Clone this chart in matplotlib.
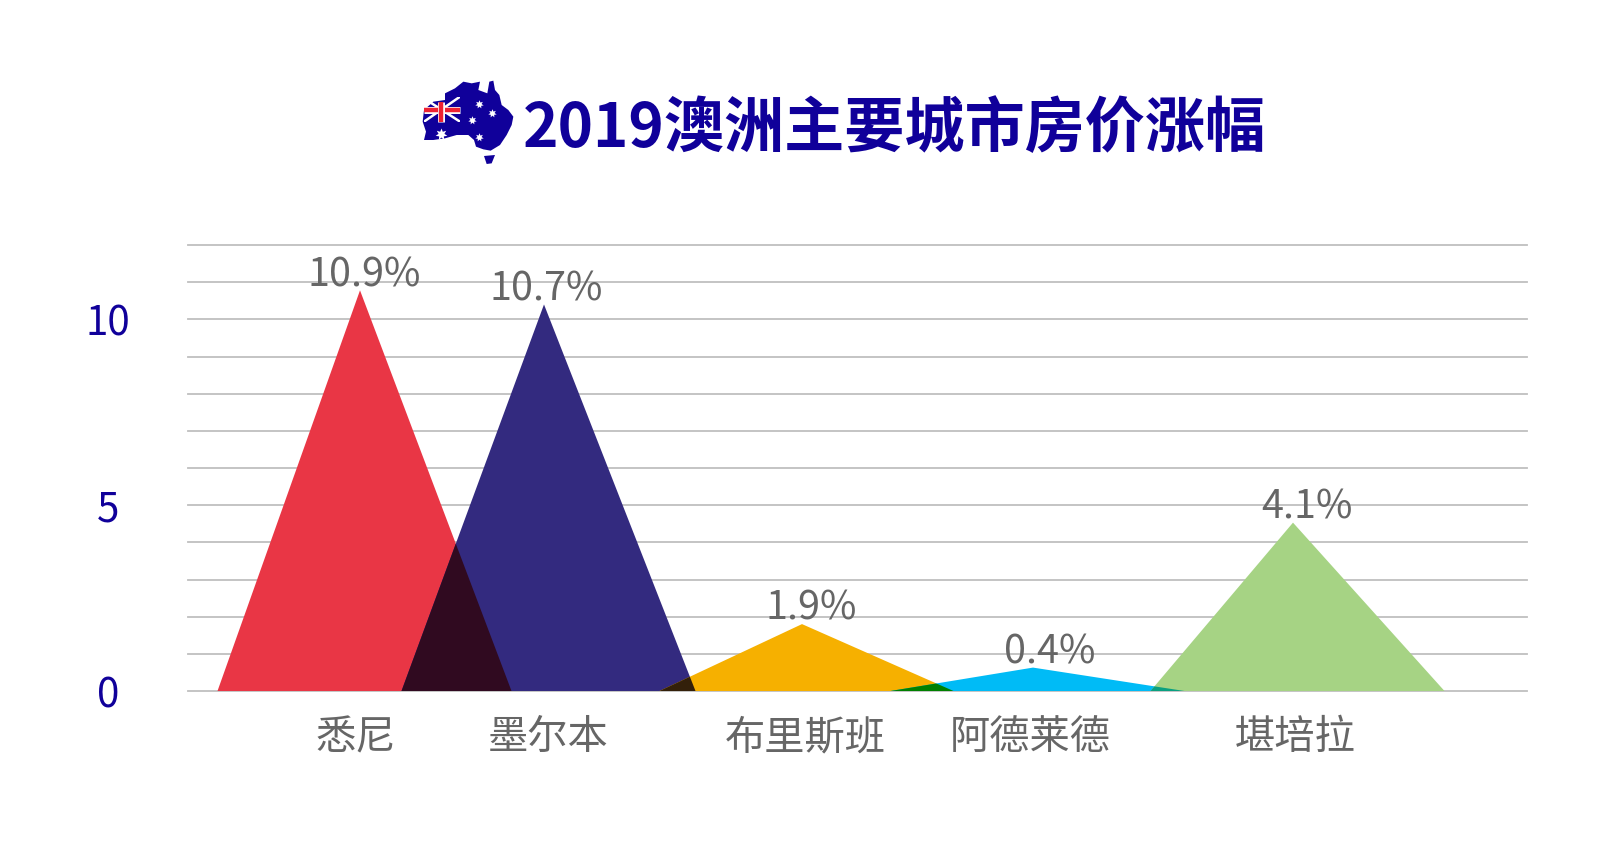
import matplotlib
matplotlib.use("Agg")
import matplotlib.pyplot as plt
from matplotlib.patches import Polygon, Rectangle

plt.rcParams['font.family'] = ['Noto Sans CJK SC', 'DejaVu Sans']

# ---- data ----
cities = ['悉尼', '墨尔本', '布里斯班', '阿德莱德', '堪培拉']
drawn_heights = [10.78, 10.40, 1.80, 0.63, 4.53]
value_labels = ['10.9%', '10.7%', '1.9%', '0.4%', '4.1%']
title_text = '2019澳洲主要城市房价涨幅'

# ---- layout (x axis runs in image pixels) ----
peak_x = [360, 544, 802, 1033, 1293]
label_x = [364, 546, 811, 1050, 1307]
city_label_x = [356, 548, 805, 1030, 1295]
half_base = 147
peak_shift = 4.5
colors = ['#E93645', '#332A7F', '#F6B000', '#00BBF6', '#A6D384']
overlap_colors = ['#300A20', '#33200A', '#008000', '#0AA080']
NAVY = '#10009A'
GRAY = '#666666'
W, H = 1600, 842
L, R, B, T = 187.5, 1526.5, 691, 245

fig = plt.figure(figsize=(W / 100, H / 100), dpi=100, facecolor='white')
ax = fig.add_axes([L / W, 1 - B / H, (R - L) / W, (B - T) / H])
ax.set_xlim(L, R)
ax.set_ylim(0, 12)
for s in ax.spines.values():
    s.set_visible(False)

ax.set_yticks([0, 5, 10])
ax.set_yticks(range(13), minor=True)
ax.set_yticklabels(['0', '5', '10'], fontsize=29, color=NAVY)
ax.tick_params(axis='y', which='both', length=0, pad=57)
for t in ax.get_yticklabels():
    t.set_ha('center')
ax.grid(axis='y', which='both', color='#BFBFBF', lw=1.3, zorder=0)
ax.set_axisbelow(True)
for tk in ax.yaxis.get_major_ticks() + ax.yaxis.get_minor_ticks():
    tk.gridline.set_clip_on(False)

ax.set_xticks(city_label_x)
ax.set_xticklabels(cities, fontsize=29, color=GRAY)
ax.tick_params(axis='x', length=0, pad=19)


def tri(px, h):
    mid = px + peak_shift
    return [(mid - half_base, 0), (px, h), (mid + half_base, 0)]


patches = []
for px, h, c in zip(peak_x, drawn_heights, colors):
    p = Polygon(tri(px, h), closed=True, fc=c, ec='none', zorder=2)
    ax.add_patch(p)
    patches.append(p)

# multiply-style overlap between neighbouring triangles
for i, c in enumerate(overlap_colors):
    p = Polygon(tri(peak_x[i + 1], drawn_heights[i + 1]), closed=True,
                fc=c, ec='none', zorder=3)
    ax.add_patch(p)
    p.set_clip_path(patches[i])

for lx, h, txt in zip(label_x, drawn_heights, value_labels):
    ax.annotate(txt, xy=(lx, h), xytext=(0, 11), textcoords='offset points',
                ha='center', va='center', fontsize=28.5, color=GRAY,
                fontweight='light', zorder=5)

# ---- title + decorative map icon, in image pixels ----
ov = fig.add_axes([0, 0, 1, 1], zorder=10)
ov.set_xlim(0, W)
ov.set_ylim(H, 0)
ov.axis('off')
ov.patch.set_alpha(0)
ov.text(523, 129, title_text, fontsize=43.3, fontweight='bold', color=NAVY,
        ha='left', va='center')


def ic(pts):
    return [(400 + x / 3, 60 + y / 3) for x, y in pts]


outline = [(68, 185), (72, 150), (100, 125), (135, 120), (135, 100), (165, 85),
           (190, 65), (215, 70), (240, 65), (235, 90), (262, 100), (268, 65),
           (280, 62), (285, 90), (298, 105), (305, 135), (325, 150), (340, 170),
           (335, 195), (320, 225), (300, 255), (272, 272), (250, 268), (228, 260),
           (222, 240), (205, 225), (170, 225), (135, 235), (100, 240), (72, 240),
           (78, 215)]
tas = [(252, 288), (285, 285), (275, 310), (260, 312)]
ov.add_patch(Polygon(ic(outline), closed=True, fc=NAVY, ec='none'))
ov.add_patch(Polygon(ic(tas), closed=True, fc=NAVY, ec='none'))

flag = Rectangle((424, 96.5), 36, 25, fc='none', ec='none')
ov.add_patch(flag)
for (a, b) in [((72, 185), (180, 110)), ((72, 115), (180, 185))]:
    (x0, y0), (x1, y1) = ic([a, b])
    l1, = ov.plot([x0, x1], [y0, y1], color='white', lw=1.8, solid_capstyle='butt')
    l1.set_clip_path(flag)
(x0, y0), (x1, y1) = ic([(72, 150), (180, 150)])
ov.plot([x0, x1], [y0, y1], color='white', lw=5, solid_capstyle='butt')
ov.plot([x0, x1], [y0, y1], color='#EE2233', lw=3.2, solid_capstyle='butt')
(x0, y0), (x1, y1) = ic([(122, 125), (122, 185)])
ov.plot([x0, x1], [y0, y1], color='white', lw=5, solid_capstyle='butt')
ov.plot([x0, x1], [y0, y1], color='#EE2233', lw=3.2, solid_capstyle='butt')

sx, sy = zip(*ic([(237, 133), (277, 158), (217, 181), (238, 232)]))
ov.scatter(sx, sy, marker=(7, 1), s=38, c='white', linewidths=0)
bx, by = zip(*ic([(122, 222)]))
ov.scatter(bx, by, marker=(7, 1), s=75, c='white', linewidths=0)

fig.savefig('out.png', dpi=100, facecolor='white')
